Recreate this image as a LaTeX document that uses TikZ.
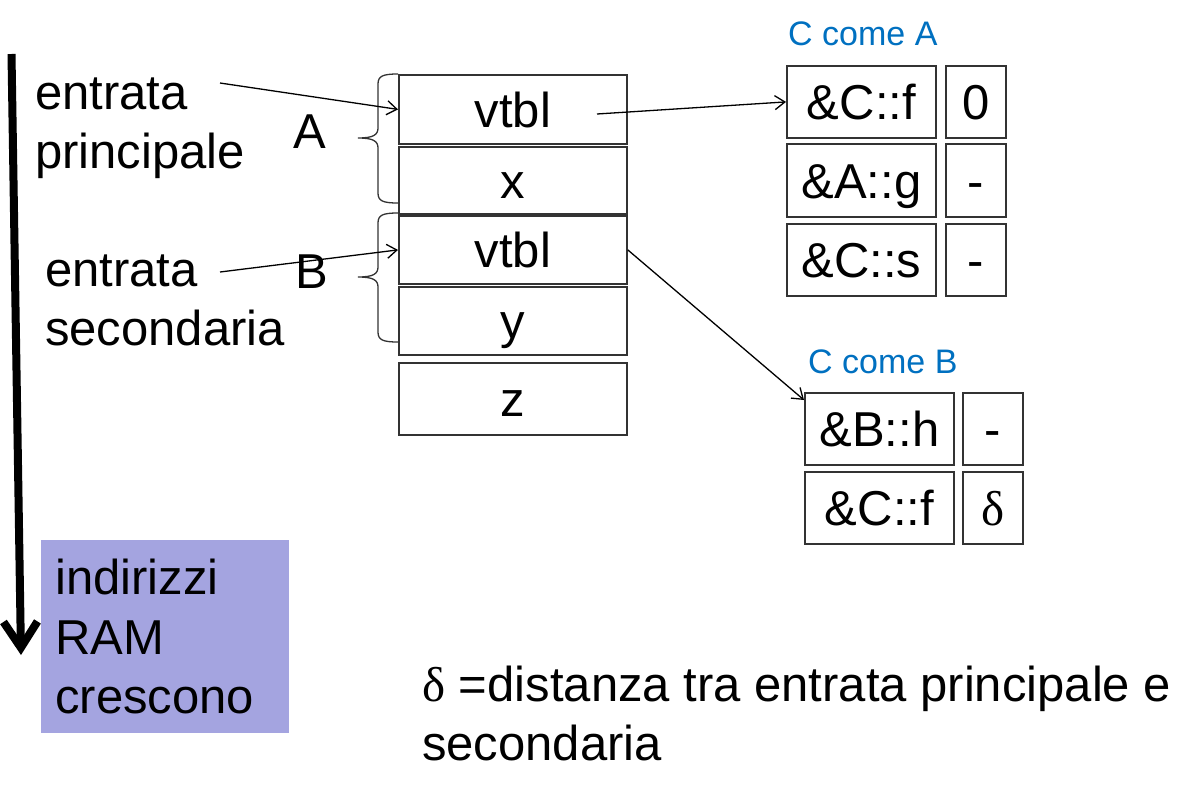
\documentclass[tikz,border=0pt]{standalone}
\usepackage{fontspec}
\setmainfont{Liberation Sans}
\newfontfamily\deltafont{Liberation Serif}
\usetikzlibrary{arrows.meta,calc}
\definecolor{titleblue}{HTML}{0070C0}
\definecolor{ramfill}{HTML}{A4A4E0}
\definecolor{cellline}{HTML}{333333}
\tikzset{
  bigtext/.style={font=\fontsize{49}{59}\selectfont, inner sep=0pt},
  cellbox/.style={draw=cellline, line width=1.8pt, inner sep=0pt, text height=38pt, text depth=2pt,
    font=\fontsize{49}{58}\selectfont, anchor=north west},
  tabtitle/.style={font=\fontsize{34}{40}\selectfont, text=titleblue, inner sep=0pt, anchor=base west},
  thinarrow/.style={line width=1.3pt, -{Straight Barb[length=10pt,width=14pt]}},
  braceline/.style={line width=1.3pt, draw=cellline},
}
\begin{document}
\begin{tikzpicture}[x=1pt,y=-1pt]
\useasboundingbox (0,0) rectangle (1202,790);

% memory layout
\node[cellbox, minimum width=228pt, minimum height=69pt] (vt1) at (398,74) {vtbl};
\node[cellbox, minimum width=228pt, minimum height=67pt] (xx) at (398,146) {x};
\node[cellbox, minimum width=228pt, minimum height=68pt] (vt2) at (398,215) {vtbl};
\node[cellbox, minimum width=228pt, minimum height=68pt] (yy) at (398,286) {y};
\node[cellbox, minimum width=228pt, minimum height=72pt] (zz) at (398,362) {z};

% braces
\draw[braceline] (398,74) .. controls (383,74) and (378,76) .. (378,84) -- (378,128)
  .. controls (378,135) and (373,138) .. (358,138) .. controls (373,138) and (378,141) .. (378,148)
  -- (378,193) .. controls (378,201) and (383,203) .. (398,203);
\begin{scope}[shift={(0,139)}]
\draw[braceline] (398,74) .. controls (383,74) and (378,76) .. (378,84) -- (378,128)
  .. controls (378,135) and (373,138) .. (358,138) .. controls (373,138) and (378,141) .. (378,148)
  -- (378,193) .. controls (378,201) and (383,203) .. (398,203);
\end{scope}

\node[bigtext, anchor=base west] (la) at (293,148) {A};
\node[bigtext, anchor=base west] (lb) at (295,288) {B};

% left labels (base anchor = baseline of the last line)
\node[bigtext, anchor=base west, align=left] (ep) at (35,168) {entrata\\principale};
\node[bigtext, anchor=base west, align=left] (es) at (45,345) {entrata\\secondaria};
\coordinate (epA) at (220,83);
\coordinate (esA) at (220,272);
\draw[thinarrow] (epA) -- (vt1.west);
\draw[thinarrow] (esA) -- (vt2.west);

% table C come A
\node[tabtitle] (ta) at (788,45) {C come A};
\node[cellbox, minimum width=149pt, minimum height=72pt] (cf1) at (786,65) {\&C::f};
\node[cellbox, minimum width=60pt, minimum height=72pt] (o1) at (945,65) {0};
\node[cellbox, minimum width=149pt, minimum height=73pt] (ag) at (786,143) {\&A::g};
\node[cellbox, minimum width=60pt, minimum height=73pt] (o2) at (945,143) {-};
\node[cellbox, minimum width=149pt, minimum height=72pt] (cs) at (786,223) {\&C::s};
\node[cellbox, minimum width=60pt, minimum height=72pt] (o3) at (945,223) {-};

% table C come B
\node[tabtitle] (tb) at (808,373) {C come B};
\node[cellbox, minimum width=149pt, minimum height=72pt] (bh) at (804,392) {\&B::h};
\node[cellbox, minimum width=60pt, minimum height=72pt] (p1) at (962,392) {-};
\node[cellbox, minimum width=149pt, minimum height=72pt] (cf2) at (804,471) {\&C::f};
\node[cellbox, minimum width=60pt, minimum height=72pt] (p2) at (962,471) {{\deltafont δ}};

% pointers
\coordinate (v1s) at (597,114);
\draw[thinarrow] (v1s) -- (cf1.west);
\draw[thinarrow] (vt2.east) -- ($(bh.north west)+(0,8)$);

% RAM direction
\coordinate (ramtop) at (11.5,54);
\coordinate (rambot) at (21,655);
\draw[line width=8pt, -{Straight Barb[length=26pt,width=34pt]}] (ramtop) -- (rambot);
\node[fill=ramfill, anchor=north west, text width=220pt, inner xsep=14pt, inner ysep=19pt, align=left,
  font=\fontsize{49}{59.5}\selectfont, minimum height=193pt] (ram) at (41,540) {indirizzi\\RAM\\crescono};

% legend
\node[bigtext, anchor=base west, align=left] (legend) at (422,760) {{\deltafont δ} =distanza tra entrata principale e\\secondaria};
\end{tikzpicture}
\end{document}
